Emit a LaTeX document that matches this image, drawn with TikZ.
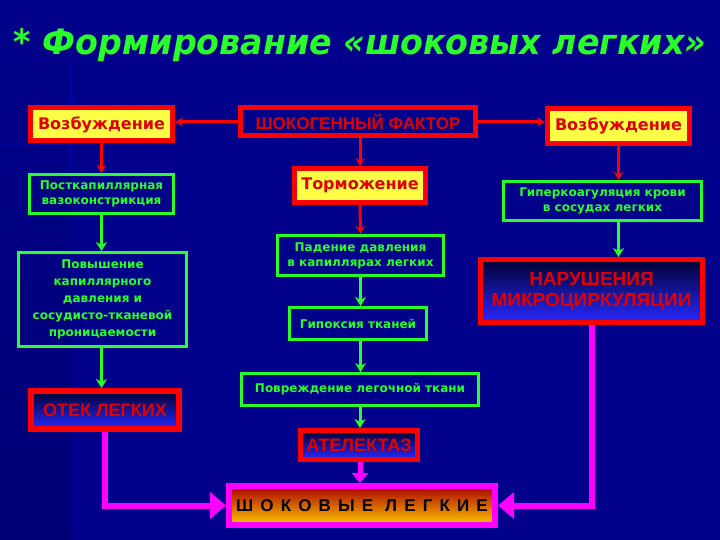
\documentclass[tikz,border=0pt]{standalone}
\usepackage{fontspec}
\usepackage{graphicx}
\setmainfont{DejaVu Sans}
\newfontfamily\libsans{Liberation Sans}
\usetikzlibrary{arrows.meta}
\definecolor{bg}{RGB}{0,0,138}
\definecolor{bgdark}{RGB}{0,0,118}
\definecolor{grn}{RGB}{40,255,40}
\definecolor{yel}{RGB}{255,255,70}
\definecolor{rd}{RGB}{255,0,0}
\definecolor{txtred}{RGB}{225,0,0}
\definecolor{mag}{RGB}{255,0,255}
\definecolor{dk}{RGB}{0,0,50}
\definecolor{blu}{RGB}{40,40,255}
\definecolor{shtop}{RGB}{170,0,0}
\definecolor{shbot}{RGB}{255,200,0}
\begin{document}
\begin{tikzpicture}[x=1pt,y=-1pt,
  ybox/.style={fill=yel,draw=rd,line width=5pt,text=txtred,inner sep=0pt,
    font=\bfseries\fontsize{16}{18}\selectfont},
  gbox/.style={draw=grn,line width=3pt,text=grn,inner sep=0pt,align=center,
    font=\bfseries\fontsize{12}{15}\selectfont},
  rbox/.style={draw=rd,line width=5pt,top color=dk,bottom color=blu,text=txtred,inner sep=0pt,align=center},
  redarr/.style={draw=rd,line width=3pt,-{Stealth[length=8pt,width=9pt]}},
  grnarr/.style={draw=grn,line width=3pt,-{Stealth[length=9pt,width=11pt]}},
  magarr/.style={draw=mag,line width=6pt,-{Triangle[length=16pt,width=26pt]}}
]
\useasboundingbox (0,0) rectangle (720,540);
\fill[bg] (0,0) rectangle (720,540);
\shade[top color=bg,bottom color=bgdark] (0,0) rectangle (70,540);
\draw[blue!25!bg,line width=1.2pt] (70,60) -- (70,170);
\draw[blue!20!bg,line width=1.2pt] (0,145) -- (70,145);

% title
\node[text=grn,font=\bfseries\itshape\fontsize{35}{37}\selectfont] (title) at (360,45)
  {\scalebox{0.95}[1]{* Формирование «шоковых легких»}};

% top row
\node[ybox,minimum width=142pt,minimum height=33pt] (vL) at (101.5,124.5) {Возбуждение};
\node[draw=rd,line width=5pt,fill=bg,text=txtred,inner sep=0pt,minimum width=235pt,minimum height=28pt,
  font=\libsans\bfseries\fontsize{17}{19}\selectfont] (shock) at (358,122) {ШОКОГЕННЫЙ ФАКТОР};
\node[ybox,minimum width=142pt,minimum height=35pt] (vR) at (618.5,126) {Возбуждение};

% second row
\node[gbox,minimum width=144pt,minimum height=39pt] (post) at (101.5,194)
  {Посткапиллярная\\вазоконстрикция};
\node[ybox,minimum width=131pt,minimum height=34pt] (torm) at (360,185.5) {Торможение};
\node[gbox,minimum width=198pt,minimum height=39pt] (hyper) at (602.5,201)
  {Гиперкоагуляция крови\\в сосудах легких};

% middle
\node[gbox,font=\bfseries\fontsize{12}{17}\selectfont,minimum width=168pt,minimum height=94pt] (povysh) at (102.5,299.5)
  {Повышение\\капиллярного\\давления и\\сосудисто-тканевой\\проницаемости};
\node[gbox,minimum width=166pt,minimum height=40pt] (paden) at (360.5,255.5)
  {Падение давления\\в капиллярах легких};
\node[gbox,minimum width=137pt,minimum height=32pt] (hypox) at (358,323.5) {Гипоксия тканей};
\node[gbox,minimum width=237pt,minimum height=32pt] (povrezh) at (360,389.5) {Повреждение легочной ткани};
\node[rbox,minimum width=222pt,minimum height=63pt,
  font=\libsans\bfseries\fontsize{19}{21}\selectfont] (narush) at (591.5,291)
  {НАРУШЕНИЯ\\МИКРОЦИРКУЛЯЦИИ};

% lower
\node[rbox,line width=6pt,minimum width=148pt,minimum height=38pt,
  font=\libsans\bfseries\fontsize{18}{20}\selectfont] (otek) at (105,410) {ОТЕК ЛЕГКИХ};
\node[rbox,minimum width=117pt,minimum height=29pt,
  font=\libsans\bfseries\fontsize{18}{20}\selectfont] (atel) at (359,445) {АТЕЛЕКТАЗ};
\node[draw=mag,line width=6pt,top color=shtop,bottom color=shbot,text=black,inner sep=0pt,
  minimum width=266pt,minimum height=39pt,
  font=\libsans\bfseries\fontsize{17}{19}\selectfont\addfontfeature{LetterSpace=42}] (shokl) at (362,505.5)
  {ШОКОВЫЕ\hspace{12pt}ЛЕГКИЕ};

% connectors
\draw[redarr] (shock.west) -- (shock.west -| vL.east);
\draw[redarr] (shock.east) -- (shock.east -| vR.west);
\draw[redarr] (vL.south) -- (post.north);
\draw[redarr] (shock.south -| torm.north) -- (torm.north);
\draw[redarr] (vR.south) -- (vR.south |- hyper.north);
\draw[grnarr] (post.south) -- (post.south |- povysh.north);
\draw[redarr] (torm.south) -- (paden.north);
\draw[grnarr] (paden.south) -- (paden.south |- hypox.north);
\draw[grnarr] (hypox.south -| paden.south) -- (paden.south |- povrezh.north);
\draw[grnarr] (hyper.south -| vR.south) -- (vR.south |- narush.north);
\draw[grnarr] (povysh.south -| post.south) -- (post.south |- otek.north);
\draw[grnarr] (povrezh.south) -- (povrezh.south |- atel.north);
\draw[draw=mag,line width=5pt,-{Triangle[length=10pt,width=16pt]}] (atel.south -| povrezh.south) -- (povrezh.south |- shokl.north);
\draw[magarr] (otek.south) |- (shokl.west);
\draw[magarr] (narush.south) |- (shokl.east);
\end{tikzpicture}
\end{document}
